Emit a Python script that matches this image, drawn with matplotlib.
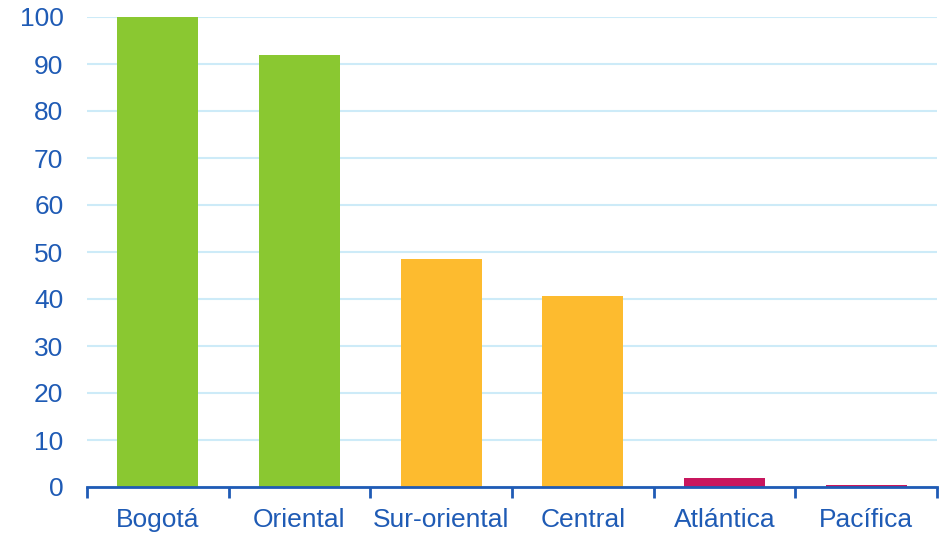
import matplotlib
matplotlib.use("Agg")
import matplotlib.pyplot as plt
import numpy as np

regions = ["Bogotá", "Oriental", "Sur-oriental", "Central", "Atlántica", "Pacífica"]
values = [100, 91.9, 48.5, 40.6, 1.9, 0.4]
colors = ["#8AC831", "#8AC831", "#FDBB2F", "#FDBB2F", "#C8175E", "#C8175E"]
yticks = [0, 10, 20, 30, 40, 50, 60, 70, 80, 90, 100]

blue = "#1F5BB5"
plt.rcParams["font.family"] = ["Liberation Sans", "DejaVu Sans"]

fig = plt.figure(figsize=(9.43, 5.35), dpi=100)
ax = fig.add_axes([87 / 943, 1 - 487 / 535, 850 / 943, 470 / 535])

x = np.arange(len(regions))
ax.bar(x, values, width=0.57, color=colors, zorder=3)

ax.set_xlim(-0.5, len(regions) - 0.5)
ax.set_ylim(0, 100)
ax.set_yticks(yticks)
ax.set_yticklabels([str(v) for v in yticks], color=blue, fontsize=19)
ax.tick_params(axis="y", length=0, pad=17)

# category labels centred, tick marks on the boundaries
ax.set_xticks(x)
ax.set_xticklabels(regions, color=blue, fontsize=19)
ax.tick_params(axis="x", which="major", length=0, pad=15)
ax.set_xticks(np.arange(-0.5, len(regions)), minor=True)
ax.tick_params(axis="x", which="minor", length=8, width=2, color=blue, direction="out")

ax.grid(axis="y", color="#CDEBF8", linewidth=1.5, zorder=0)
for side in ["top", "right", "left"]:
    ax.spines[side].set_visible(False)
ax.spines["bottom"].set_color(blue)
ax.spines["bottom"].set_linewidth(2)
ax.spines["bottom"].set_zorder(4)

fig.savefig("out.png", dpi=100)
